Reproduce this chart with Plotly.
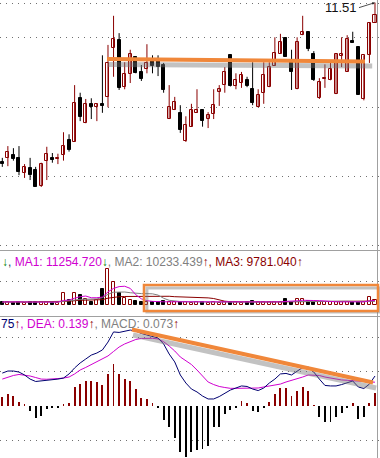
import plotly.graph_objects as go
import pandas as pd

W, H = 380, 458

# ---------------- data ----------------
opens = [9.21,9.27,9.31,9.27,9.05,9.12,9.10,8.86,9.23,9.27,
         9.25,9.31,9.53,9.50,10.13,9.77,10.05,10.00,10.05,10.15,
         10.86,10.97,10.29,10.48,10.73,10.51,10.55,10.67,10.68,10.61,
         9.83,9.96,9.92,9.51,9.72,9.92,9.96,9.83,9.90,10.22,
         10.32,10.75,10.31,10.35,10.39,10.26,10.00,10.21,10.29,10.60,
         10.77,11.00,10.65,10.26,11.04,11.09,10.77,10.13,10.41,10.39,
         10.19,10.74,10.51,10.96,10.87,10.12,10.75,11.22]
highs = [9.27,9.44,9.41,9.44,9.18,9.27,9.14,9.20,9.43,9.34,
         9.33,9.64,9.61,10.32,10.21,10.12,10.13,10.05,10.75,10.90,
         11.32,11.07,10.65,10.83,10.74,10.61,10.91,10.75,10.75,10.64,
         10.32,10.15,10.03,9.87,10.05,10.26,9.96,9.93,10.26,10.32,
         10.58,10.76,10.49,10.51,10.44,10.65,10.26,10.65,10.65,11.01,
         11.06,11.01,10.83,11.01,11.32,11.09,10.81,10.42,10.62,10.64,
         10.77,11.01,11.04,11.09,10.87,10.75,11.22,11.51]
lows = [9.14,9.15,9.23,9.02,8.98,8.95,8.85,8.85,8.95,9.20,
        9.18,9.23,9.36,9.50,9.80,9.77,9.83,9.80,9.92,10.00,
        10.44,10.25,10.26,10.35,10.49,10.38,10.49,10.49,10.45,10.21,
        9.83,9.96,9.63,9.50,9.72,9.92,9.72,9.70,9.83,10.02,
        10.21,10.30,10.26,10.28,10.29,10.03,10.00,10.05,10.29,10.60,
        10.77,10.73,10.25,10.26,11.04,10.81,10.38,10.12,10.28,10.39,
        10.19,10.58,10.51,10.93,10.18,10.10,10.64,11.22]
closes = [9.18,9.36,9.25,9.07,9.14,9.02,8.85,9.18,9.33,9.24,
          9.27,9.44,9.38,10.06,9.86,10.05,10.00,10.05,10.02,10.64,
          10.99,10.28,10.48,10.77,10.49,10.41,10.64,10.60,10.58,10.25,
          10.00,10.08,9.67,9.74,9.96,9.96,9.80,9.89,10.03,10.26,
          10.51,10.31,10.39,10.47,10.31,10.06,10.18,10.47,10.58,10.78,
          10.94,10.73,10.51,10.94,11.09,10.84,10.39,10.36,10.42,10.55,
          10.77,10.77,10.99,10.93,10.18,10.75,11.22,11.33]
volumes = [7500,8750,6250,8750,6250,7500,8750,7500,7500,6250,
           6250,29250,12500,30750,25000,14250,8250,12500,39250,89250,
           58250,30750,16750,12500,10000,7500,7500,7500,7500,10000,
           7500,7500,8750,7500,6250,7500,7500,6250,7500,6250,
           7500,7500,7500,6250,7500,10000,7500,7500,8750,7500,
           7500,14250,8750,14250,14250,10000,8750,7500,7500,7500,
           8750,7500,8750,7500,8750,7500,20000,12500]
dif = [0.192,0.204,0.204,0.198,0.181,0.157,0.143,0.146,0.152,0.155,
       0.157,0.163,0.187,0.222,0.251,0.274,0.297,0.309,0.327,0.373,
       0.432,0.429,0.435,0.443,0.437,0.423,0.414,0.405,0.397,0.362,
       0.303,0.257,0.181,0.134,0.099,0.082,0.058,0.041,0.041,0.055,
       0.076,0.093,0.105,0.117,0.114,0.099,0.090,0.105,0.134,0.157,
       0.187,0.190,0.181,0.201,0.225,0.227,0.198,0.157,0.120,0.117,
       0.117,0.125,0.137,0.146,0.111,0.102,0.128,0.175]
dea = [0.157,0.169,0.178,0.184,0.181,0.175,0.166,0.157,0.156,0.156,
       0.160,0.163,0.169,0.187,0.210,0.225,0.242,0.260,0.274,0.292,
       0.318,0.344,0.362,0.376,0.388,0.394,0.395,0.395,0.391,0.375,
       0.350,0.321,0.286,0.262,0.242,0.210,0.172,0.140,0.125,0.114,
       0.108,0.103,0.103,0.103,0.103,0.103,0.105,0.111,0.117,0.122,
       0.128,0.140,0.149,0.156,0.169,0.181,0.181,0.178,0.169,0.162,
       0.157,0.152,0.150,0.149,0.147,0.143,0.140,0.139]
macd = [0.051,0.070,0.058,0.025,0.006,-0.027,-0.072,-0.057,-0.019,-0.014,
        -0.008,0.006,0.019,0.109,0.128,0.146,0.146,0.142,0.122,0.185,
        0.245,0.185,0.156,0.148,0.099,0.048,0.039,0.016,-0.012,-0.082,
        -0.121,-0.188,-0.267,-0.296,-0.267,-0.257,-0.253,-0.233,-0.124,-0.124,
        -0.047,-0.023,-0.013,0.029,0.016,-0.027,-0.033,-0.013,0.025,0.070,
        0.107,0.103,0.058,0.089,0.109,0.088,0.003,-0.062,-0.092,-0.092,
        -0.062,-0.043,-0.012,0.019,-0.078,-0.062,0.019,0.078]

vol_header = ["↓", "MA1: 11254.720", "MA2: 10233.439", "MA3: 9781.040"]
macd_header = ["75", "DEA: 0.139", "MACD: 0.073"]
last_label = "11.51"

# ---------------- styles ----------------
RED = "#8a0000"
BLK = "#000000"
MAG = "#d000d0"
NAVY = "#000070"
GRAY = "#808080"
GREEN = "#008000"
ORANGE = "#f0873a"
SHADOW = "rgba(120,120,120,0.45)"
GRID = "#707070"
FONT = "Liberation Sans, Arial, sans-serif"

n = len(closes)
idx = list(range(n))
up = [c >= o for o, c in zip(opens, closes)]

def pf(p):  # pixel row -> paper fraction
    return 1 - p / H

fig = go.Figure()

# wicks
for flag, col in ((True, RED), (False, BLK)):
    xs, ys = [], []
    for i in idx:
        if up[i] == flag:
            xs += [i, i, None]
            ys += [lows[i], highs[i], None]
    fig.add_trace(go.Scatter(x=xs, y=ys, mode="lines", line=dict(color=col, width=1),
                             xaxis="x", yaxis="y", hoverinfo="skip", showlegend=False))

# bodies
for flag in (True, False):
    sel = [i for i in idx if up[i] == flag]
    base = [min(opens[i], closes[i]) for i in sel]
    hgt = [max(abs(closes[i] - opens[i]), 0.008) for i in sel]
    fig.add_trace(go.Bar(x=sel, y=hgt, base=base, width=0.54,
                         marker=dict(color="white" if flag else BLK,
                                     line=dict(color=RED if flag else BLK, width=1)),
                         xaxis="x", yaxis="y", showlegend=False, hoverinfo="skip"))

# volume
for flag in (True, False):
    sel = [i for i in idx if up[i] == flag]
    fig.add_trace(go.Bar(x=sel, y=[volumes[i] for i in sel], width=0.54,
                         marker=dict(color="white" if flag else BLK,
                                     line=dict(color=RED if flag else BLK, width=1)),
                         xaxis="x2", yaxis="y2", showlegend=False, hoverinfo="skip"))
vs = pd.Series(volumes)
for win, col in ((20, RED), (10, GRAY), (5, MAG)):
    fig.add_trace(go.Scatter(x=idx, y=vs.rolling(win, min_periods=1).mean(), mode="lines",
                             line=dict(color=col, width=1), xaxis="x2", yaxis="y2",
                             showlegend=False, hoverinfo="skip"))

# macd
fig.add_trace(go.Bar(x=idx, y=macd, width=0.16,
                     marker=dict(color=[RED if v >= 0 else BLK for v in macd], line=dict(width=0)),
                     xaxis="x3", yaxis="y3", showlegend=False, hoverinfo="skip"))
fig.add_trace(go.Scatter(x=idx, y=dea, mode="lines", line=dict(color=MAG, width=1),
                         xaxis="x3", yaxis="y3", showlegend=False, hoverinfo="skip"))
fig.add_trace(go.Scatter(x=idx, y=dif, mode="lines", line=dict(color=NAVY, width=1),
                         xaxis="x3", yaxis="y3", showlegend=False, hoverinfo="skip"))

xr = [-0.413, 67.9]
xcommon = dict(range=xr, visible=False, domain=[0, 1])
ycommon = dict(showticklabels=False, zeroline=False, showline=False, ticks="",
               showgrid=True, gridcolor=GRID, gridwidth=1, griddash="1px,5px")

fig.update_layout(
    width=W, height=H, margin=dict(l=0, r=0, t=0, b=0),
    paper_bgcolor="white", plot_bgcolor="white",
    barmode="overlay", bargap=0, showlegend=False,
    font=dict(family=FONT, size=12),
    xaxis=dict(**xcommon, anchor="y"),
    xaxis2=dict(**xcommon, anchor="y2"),
    xaxis3=dict(**xcommon, anchor="y3"),
    yaxis=dict(**ycommon, domain=[pf(250), 1], range=[7.9405, 11.548],
               tickvals=[8, 9, 10, 11, 11.5], anchor="x"),
    yaxis2=dict(**ycommon, domain=[pf(316), pf(251)], range=[-27500, 135000],
                tickvals=[60000], anchor="x2"),
    yaxis3=dict(**ycommon, domain=[0, pf(318)], range=[-0.3033, 0.5133],
                tickvals=[-0.2, 0.2, 0.4], anchor="x3"),
)

shapes = []
for p in (250.5, 316.5):
    shapes.append(dict(type="line", xref="paper", yref="paper", x0=0, x1=1,
                       y0=pf(p), y1=pf(p), line=dict(color="#a0a0a0", width=1)))
shapes.append(dict(type="line", xref="paper", yref="paper", x0=377.5 / W, x1=377.5 / W,
                   y0=0, y1=1, line=dict(color="#a0a0a0", width=1)))
# trend line on price (shadow + orange)
shapes.append(dict(type="line", xref="x", yref="y", x0=19.0, y0=10.617, x1=66.5, y1=10.596,
                   line=dict(color=SHADOW, width=5)))
shapes.append(dict(type="line", xref="x", yref="y", x0=18.82, y0=10.697, x1=65.2, y1=10.66,
                   line=dict(color=ORANGE, width=4)))
# volume box
shapes.append(dict(type="rect", xref="x2", yref="y2", x0=26.0, x1=67.9, y0=-17500, y1=42500,
                   line=dict(color=SHADOW, width=3)))
shapes.append(dict(type="rect", xref="x2", yref="y2", x0=25.47, x1=67.54, y0=-15000, y1=50000,
                   line=dict(color=ORANGE, width=2.5)))
# macd trend line
shapes.append(dict(type="line", xref="x3", yref="y3", x0=23.5, y0=0.414, x1=67.2, y1=0.105,
                   line=dict(color=SHADOW, width=5)))
shapes.append(dict(type="line", xref="x3", yref="y3", x0=23.3, y0=0.446, x1=66.64, y1=0.137,
                   line=dict(color=ORANGE, width=4)))
fig.update_layout(shapes=shapes)

vol_text = (f"<span style='color:{GREEN}'>{vol_header[0]}</span>, "
            f"<span style='color:{MAG}'>{vol_header[1]}</span><span style='color:{GREEN}'>↓</span>"
            f"<span style='color:{GRAY}'>, {vol_header[2]}</span><span style='color:{RED}'>↑</span>"
            f"<span style='color:{RED}'>, {vol_header[3]}↑</span>")
macd_text = (f"<span style='color:{NAVY}'>{macd_header[0]}</span><span style='color:{RED}'>↑</span>"
             f"<span style='color:{MAG}'>, {macd_header[1]}</span><span style='color:{RED}'>↑</span>"
             f"<span style='color:{GRAY}'>, {macd_header[2]}</span><span style='color:{RED}'>↑</span>")

fig.add_annotation(xref="paper", yref="paper", x=0.0, y=pf(262), text=vol_text,
                   showarrow=False, xanchor="left", yanchor="middle",
                   font=dict(size=12, family=FONT))
fig.add_annotation(xref="paper", yref="paper", x=-1 / W, y=pf(324), text=macd_text,
                   showarrow=False, xanchor="left", yanchor="middle",
                   font=dict(size=12, family=FONT))
fig.add_annotation(xref="x", yref="y", x=n - 1, y=highs[-1], text=last_label,
                   showarrow=True, arrowhead=2, arrowsize=0.7, arrowwidth=0.8, arrowcolor="#222",
                   ax=-16, ay=5, xanchor="right", yanchor="middle",
                   font=dict(size=13, family=FONT, color="#111"))

fig.write_html("out.html", config={"displayModeBar": False},
               post_script="document.body.style.margin='0';document.body.style.overflow='hidden';")
